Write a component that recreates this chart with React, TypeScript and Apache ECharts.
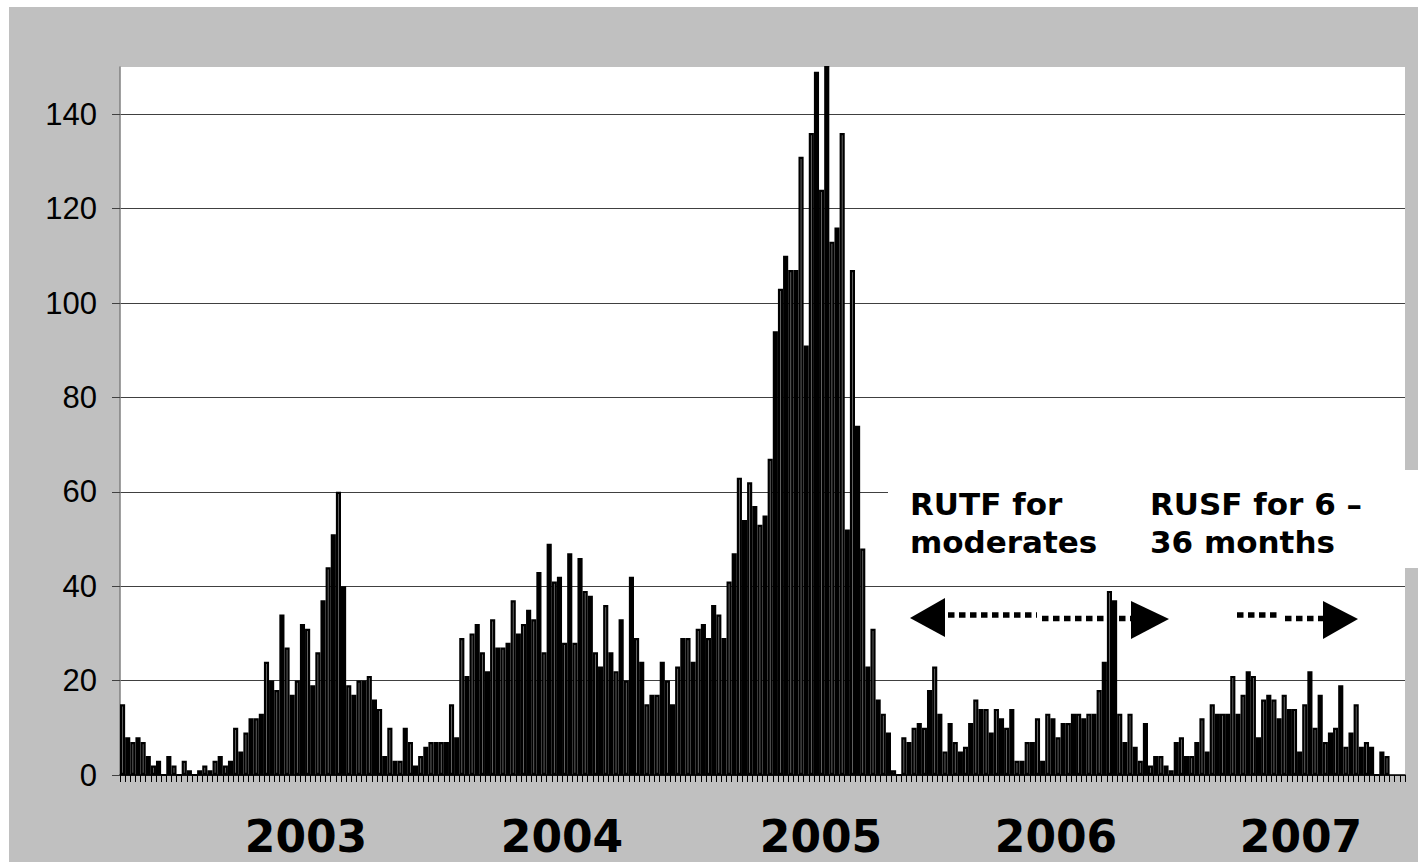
import React, { useEffect, useRef } from "react";
import * as echarts from "echarts";

// Weekly case counts (three consecutive segments)
const segA = [15, 8, 7, 8, 7, 4, 2, 3, 0, 4, 2, 0, 3, 1, 0, 1, 2, 1, 3, 4, 2, 3, 10, 5, 9, 12, 12, 13, 24, 20, 18, 34, 27, 17, 20, 32, 31, 19, 26, 37, 44, 51, 60, 40, 19, 17, 20, 20, 21, 16, 14, 4, 10, 3, 3, 10, 7, 2, 4, 6, 7, 7, 7, 7];
const segB = [15, 8, 29, 21, 30, 32, 26, 22, 33, 27, 27, 28, 37, 30, 32, 35, 33, 43, 26, 49, 41, 42, 28, 47, 28, 46, 39, 38, 26, 23, 36, 26, 22, 33, 20, 42, 29, 24, 15, 17, 17, 24, 20, 15, 23, 29, 29, 24, 31, 32, 29, 36, 34, 29, 41, 47, 63, 54, 62, 57, 53, 55, 67, 94, 103, 110, 107, 107, 131, 91, 136, 149, 124, 152, 113, 116, 136, 52, 107, 74, 48, 23, 31, 16, 13, 9, 1];
const segC = [0, 8, 7, 10, 11, 10, 18, 23, 13, 5, 11, 7, 5, 6, 11, 16, 14, 14, 9, 14, 12, 10, 14, 3, 3, 7, 7, 12, 3, 13, 12, 8, 11, 11, 13, 13, 12, 13, 13, 18, 24, 39, 37, 13, 7, 13, 6, 3, 11, 2, 4, 4, 2, 1, 7, 8, 4, 4, 7, 12, 5, 15, 13, 13, 13, 21, 13, 17, 22, 21, 8, 16, 17, 16, 12, 17, 14, 14, 5, 15, 22, 10, 17, 7, 9, 10, 19, 6, 9, 15, 6, 7, 6, 0, 5, 4];
const emptyTail = [null, null, null];

const yTicks = [0, 20, 40, 60, 80, 100, 120, 140];
const yMax = 150;
const yearLabels = ["2003", "2004", "2005", "2006", "2007"];
const noteLeft = ["RUTF for", "moderates"];
const noteRight = ["RUSF for 6 \u2013", "36 months"];

// layout (chart-local pixel coordinates)
const yearLabelX = [297, 553, 812, 1047, 1292];
const yearLabelY = 829;

export default function App() {
  const ref = useRef<HTMLDivElement>(null);

  useEffect(() => {
    if (!ref.current) return;
    const chart = echarts.init(ref.current, null, { renderer: "svg" });
    const values = [...segA, ...segB, ...segC, ...emptyTail];
    const categories = values.map((_, i) => "W" + (i + 1));

    const boldFont = 'bold 31px "DejaVu Sans"';
    const yearFont = 'bold 44px "DejaVu Sans"';
    const dash = { stroke: "#000", lineWidth: 5.5, lineDash: [6.5, 4.5] };

    const graphics: any[] = [
      {
        type: "rect",
        z: 1,
        shape: { x: 879, y: 463, width: 530, height: 98 },
        style: { fill: "#ffffff" },
      },
      ...noteLeft.map((t, i) => ({
        type: "text",
        z: 3,
        x: 901,
        y: 497 + i * 38,
        style: { text: t, font: boldFont, fill: "#000", align: "left", verticalAlign: "middle", textAlign: "left", textVerticalAlign: "middle" },
      })),
      ...noteRight.map((t, i) => ({
        type: "text",
        z: 3,
        x: 1141,
        y: 497 + i * 38,
        style: { text: t, font: boldFont, fill: "#000", align: "left", verticalAlign: "middle", textAlign: "left", textVerticalAlign: "middle" },
      })),
      ...yearLabels.map((t, i) => ({
        type: "text",
        z: 3,
        x: yearLabelX[i],
        y: yearLabelY,
        style: { text: t, font: yearFont, fill: "#000", align: "center", verticalAlign: "middle", textAlign: "center", textVerticalAlign: "middle" },
      })),
      // left double arrow
      { type: "polygon", z: 1, shape: { points: [[901, 611], [936, 591], [936, 630]] }, style: { fill: "#000" } },
      { type: "line", z: 1, shape: { x1: 939, y1: 608, x2: 1028, y2: 608 }, style: dash },
      { type: "line", z: 1, shape: { x1: 1033, y1: 611.5, x2: 1123, y2: 611.5 }, style: dash },
      { type: "polygon", z: 1, shape: { points: [[1122, 594], [1160, 612], [1122, 632]] }, style: { fill: "#000" } },
      // right arrow
      { type: "line", z: 1, shape: { x1: 1228, y1: 608, x2: 1271, y2: 608 }, style: dash },
      { type: "line", z: 1, shape: { x1: 1276, y1: 611.5, x2: 1315, y2: 611.5 }, style: dash },
      { type: "polygon", z: 1, shape: { points: [[1314, 594], [1349, 612], [1314, 632]] }, style: { fill: "#000" } },
    ];

    chart.setOption({
      animation: false,
      backgroundColor: "#c0c0c0",
      grid: { left: 111, right: 13, top: 60, bottom: 87, show: true, backgroundColor: "#ffffff", borderWidth: 0 },
      xAxis: {
        type: "category",
        data: categories,
        boundaryGap: true,
        axisLine: { show: true, lineStyle: { color: "#000", width: 1.5 } },
        axisTick: { show: true, interval: 0, length: 7, lineStyle: { color: "#000", width: 1 } },
        axisLabel: { show: false },
        splitLine: { show: false },
      },
      yAxis: {
        type: "value",
        min: 0,
        max: yMax,
        interval: 20,
        axisLine: { show: true, lineStyle: { color: "#808080", width: 1.5 } },
        axisTick: { show: true, length: 8, customValues: yTicks, lineStyle: { color: "#404040", width: 1 } },
        axisLabel: {
          customValues: yTicks,
          margin: 23,
          color: "#000",
          fontFamily: '"Liberation Sans", Arial, sans-serif',
          fontSize: 31,
        },
        splitLine: { show: true, lineStyle: { color: "#404040", width: 1 } },
      },
      series: [
        {
          type: "bar",
          data: values,
          barCategoryGap: "0%",
          barGap: "0%",
          clip: true,
          itemStyle: {
            color: (p: any) => (p.dataIndex % 2 === 0 ? "#808080" : "#000000"),
            borderColor: "#000",
            borderWidth: 2.2,
          },
        },
      ],
      graphic: graphics,
    });

    return () => chart.dispose();
  }, []);

  return (
    <div style={{ position: "fixed", left: 0, top: 0, width: 1418, height: 862, background: "#ffffff" }}>
      <div ref={ref} style={{ position: "absolute", left: 9, top: 7, width: 1409, height: 855 }} />
    </div>
  );
}
